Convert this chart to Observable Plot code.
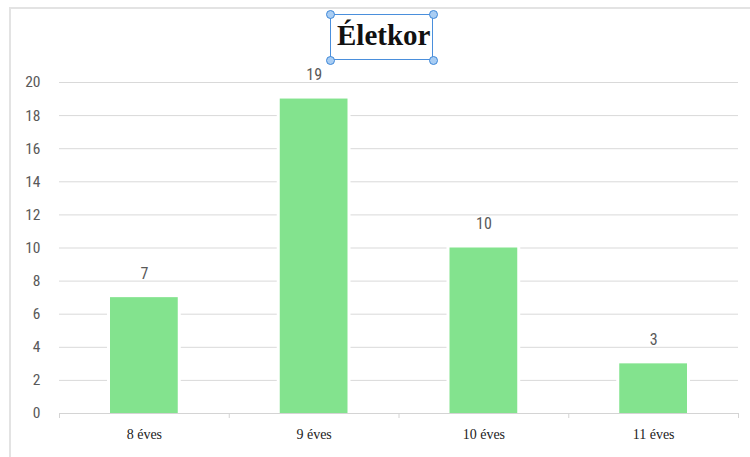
<!DOCTYPE html>
<html>
<head>
<meta charset="utf-8">
<script src="https://cdn.jsdelivr.net/npm/d3@7"></script>
<script src="https://cdn.jsdelivr.net/npm/@observablehq/plot@0.6"></script>
<style>
  html, body { margin: 0; padding: 0; background: #fff; }
  #wrap { position: relative; width: 750px; height: 457px; overflow: hidden; }
  #frame { position: absolute; left: 9px; top: 7px; right: -5px; bottom: -5px;
           border-top: 2px solid #e3e3e3; border-left: 2px solid #e3e3e3; }
  #title { position: absolute; left: 0; top: 0; width: 750px; height: 62px; }
  #title .t { position: absolute; left: 337px; top: 17px; font-family: "Liberation Serif", "Times New Roman", serif;
              font-weight: bold; font-size: 29px; color: #111; line-height: 36px; white-space: nowrap; }
  #title .box { position: absolute; left: 330px; top: 14px; width: 103px; height: 46px;
                border: 1.5px solid #4a8fdc; box-sizing: border-box; }
  #title .h { position: absolute; width: 9px; height: 9px; border-radius: 50%;
              background: #a9cdf3; border: 1.5px solid #3f88d8; box-sizing: border-box; }
  #chart { position: absolute; left: 0; top: 62px; }
</style>
</head>
<body>
<div id="wrap">
  <div id="frame"></div>
  <div id="title">
    <div class="t">Életkor</div>
    <div class="box"></div>
    <div class="h" style="left:325.5px; top:9.5px"></div>
    <div class="h" style="left:428.5px; top:9.5px"></div>
    <div class="h" style="left:325.5px; top:55.5px"></div>
    <div class="h" style="left:428.5px; top:55.5px"></div>
  </div>
  <div id="chart"></div>
</div>
<script>
const title = "Életkor";
const categories = ["8 éves", "9 éves", "10 éves", "11 éves"];
const values = [7, 19, 10, 3];
const yTicks = [0, 2, 4, 6, 8, 10, 12, 14, 16, 18, 20];

const data = categories.map((c, i) => ({cat: c, i, value: values[i]}));
const boundaries = d3.range(categories.length + 1);
const centers = categories.map((c, i) => i + 0.5);

const narrow = "'Liberation Sans Narrow', 'Roboto Condensed', 'Liberation Sans', sans-serif";
const serif = "'Liberation Serif', 'Times New Roman', serif";

const chart = Plot.plot({
  width: 750,
  height: 395,
  marginLeft: 59,
  marginRight: 12,
  marginTop: 20,
  marginBottom: 44,
  style: {background: "transparent", overflow: "visible"},
  x: {type: "linear", domain: [0, categories.length], label: null},
  y: {domain: [0, 20], label: null},
  marks: [
    Plot.ruleY(yTicks.filter(d => d > 0), {stroke: "#d9d9d9", strokeWidth: 1}),
    Plot.ruleY([0], {stroke: "#d4d4d4", strokeWidth: 1.2}),
    Plot.axisX({ticks: boundaries, tickSize: 5, tickFormat: () => "", stroke: "#d4d4d4", strokeOpacity: 1, label: null}),
    Plot.axisX({ticks: centers, tickSize: 0, tickPadding: 16, tickFormat: d => categories[Math.floor(d)],
                fontFamily: serif, fontSize: 14, fill: "#222", label: null}),
    Plot.axisY({ticks: yTicks, tickSize: 0, tickPadding: 19, fontFamily: narrow, fontSize: 15.5,
                fill: "#595959", label: null}),
    Plot.rectY(data, {x1: "i", x2: d => d.i + 1, y: "value", fill: "#ffffff",
                      insetLeft: 48, insetRight: 48, insetTop: -3}),
    Plot.rectY(data, {x1: "i", x2: d => d.i + 1, y: "value", fill: "#83e38e",
                      insetLeft: 51, insetRight: 51}),
    Plot.text(data, {x: d => d.i + 0.5, y: "value", text: d => String(d.value), dy: -24,
                     fontFamily: narrow, fontSize: 16, fill: "#595959"})
  ]
});
document.getElementById("chart").appendChild(chart);
</script>
</body>
</html>
